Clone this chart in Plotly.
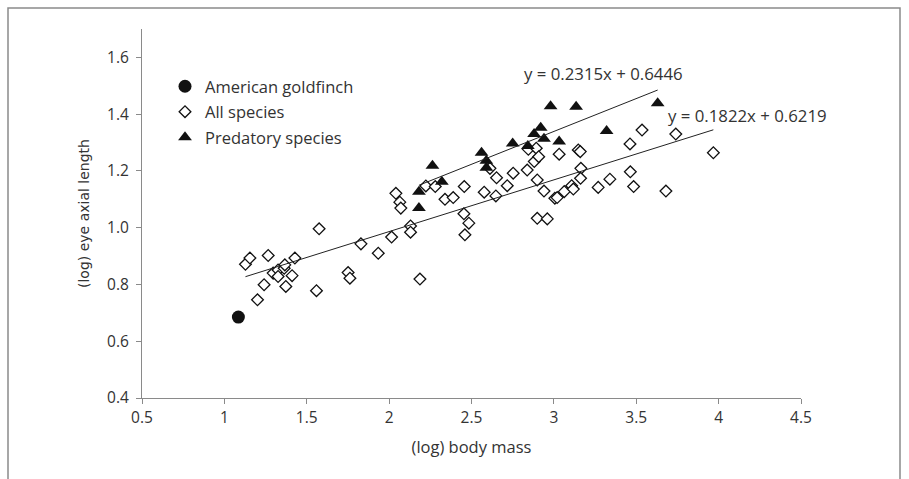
import plotly.graph_objects as go
import numpy as np

# American goldfinch
gold_x = [1.085]
gold_y = [0.685]

# All species (open diamonds)
all_x = [1.128, 1.155, 1.201, 1.241, 1.266, 1.296, 1.326, 1.326, 1.363, 1.367,
         1.373, 1.411, 1.428, 1.559, 1.575, 1.751, 1.762, 1.829, 1.934, 2.015,
         2.041, 2.065, 2.071, 2.130, 2.130, 2.187, 2.223, 2.280, 2.339, 2.389,
         2.456, 2.454, 2.484, 2.460, 2.577, 2.612, 2.648, 2.652, 2.717, 2.753,
         2.838, 2.845, 2.881, 2.893, 2.908, 2.899, 2.899, 2.960, 2.940, 3.006,
         3.020, 3.032, 3.063, 3.108, 3.118, 3.148, 3.160, 3.164, 3.162, 3.269,
         3.340, 3.462, 3.464, 3.484, 3.535, 3.680, 3.740, 3.968]
all_y = [0.871, 0.893, 0.746, 0.799, 0.902, 0.840, 0.851, 0.828, 0.857, 0.869,
         0.793, 0.831, 0.893, 0.778, 0.996, 0.842, 0.822, 0.943, 0.910, 0.967,
         1.121, 1.090, 1.069, 1.006, 0.984, 0.819, 1.147, 1.145, 1.100, 1.106,
         1.145, 1.049, 1.016, 0.975, 1.125, 1.209, 1.112, 1.176, 1.148, 1.192,
         1.203, 1.276, 1.233, 1.280, 1.250, 1.168, 1.033, 1.031, 1.129, 1.104,
         1.106, 1.259, 1.127, 1.148, 1.136, 1.274, 1.268, 1.209, 1.174, 1.142,
         1.171, 1.295, 1.197, 1.145, 1.344, 1.129, 1.330, 1.264]

# Predatory species (filled triangles)
pred_x = [2.181, 2.181, 2.263, 2.320, 2.561, 2.590, 2.590, 2.750, 2.842, 2.880,
          2.920, 2.940, 2.980, 3.032, 3.135, 3.320, 3.630]
pred_y = [1.127, 1.069, 1.218, 1.162, 1.264, 1.236, 1.211, 1.297, 1.288, 1.330,
          1.352, 1.313, 1.428, 1.304, 1.426, 1.341, 1.438]

# Trendline equations
all_slope, all_icpt = 0.1822, 0.6219
pred_slope, pred_icpt = 0.2315, 0.6446

x_ticks = [0.5, 1, 1.5, 2, 2.5, 3, 3.5, 4, 4.5]
x_tick_text = ["0.5", "1", "1.5", "2", "2.5", "3", "3.5", "4", "4.5"]
y_ticks = [0.4, 0.6, 0.8, 1.0, 1.2, 1.4, 1.6]
y_tick_text = ["0.4", "0.6", "0.8", "1.0", "1.2", "1.4", "1.6"]

FONT = "Open Sans, Noto Sans, sans-serif"
TXT = "#333333"

fig = go.Figure()

fig.add_trace(go.Scatter(
    x=all_x, y=all_y, mode="markers", name="All species",
    marker=dict(symbol="diamond", size=9, color="white",
                line=dict(color="#111111", width=1.3)),
    legendgroup="b", legendrank=2))

fig.add_trace(go.Scatter(
    x=pred_x, y=pred_y, mode="markers", name="Predatory species",
    marker=dict(symbol="triangle-up", size=12, color="#111111",
                line=dict(width=0)),
    legendgroup="c", legendrank=3))

fig.add_trace(go.Scatter(
    x=gold_x, y=gold_y, mode="markers", name="American goldfinch",
    marker=dict(symbol="circle", size=13, color="#111111", line=dict(width=0)),
    legendgroup="a", legendrank=1))

# trendlines
ax = np.array([min(all_x), max(all_x)])
fig.add_trace(go.Scatter(x=ax, y=all_slope * ax + all_icpt, mode="lines",
                         line=dict(color="#222222", width=1), showlegend=False,
                         hoverinfo="skip"))
px_ = np.array([min(pred_x), max(pred_x)])
fig.add_trace(go.Scatter(x=px_, y=pred_slope * px_ + pred_icpt, mode="lines",
                         line=dict(color="#222222", width=1), showlegend=False,
                         hoverinfo="skip"))

fig.add_annotation(x=3.300, y=1.545, xref="x", yref="y",
                   text=f"y = {pred_slope}x + {pred_icpt}", showarrow=False,
                   xanchor="center", yanchor="middle",
                   font=dict(family=FONT, size=16.8, color=TXT))
fig.add_annotation(x=4.175, y=1.395, xref="x", yref="y",
                   text=f"y = {all_slope}x + {all_icpt}", showarrow=False,
                   xanchor="center", yanchor="middle",
                   font=dict(family=FONT, size=16.8, color=TXT))

# outer frame
L, T, B = 142, 29, 81
W = 909 - L - 108
H = 479 - T - B
def px2x(p):
    return (p - L) / W
def py2y(p):
    return (479 - B - p) / H
fig.add_shape(type="rect", xref="paper", yref="paper",
              x0=px2x(8), x1=px2x(900), y0=py2y(490), y1=py2y(8),
              line=dict(color="#8a8a8a", width=1.5), fillcolor="rgba(0,0,0,0)")

fig.update_layout(
    width=909, height=479,
    margin=dict(l=L, r=108, t=T, b=B),
    paper_bgcolor="white", plot_bgcolor="white",
    font=dict(family=FONT, size=15, color=TXT),
    showlegend=True,
    legend=dict(x=px2x(165), y=py2y(69), xanchor="left", yanchor="top",
                bgcolor="rgba(0,0,0,0)", font=dict(family=FONT, size=16.5, color=TXT),
                traceorder="grouped", tracegroupgap=1, itemwidth=30),
    xaxis=dict(range=[0.5, 4.5], tickvals=x_ticks, ticktext=x_tick_text,
               showgrid=False, zeroline=False, showline=True,
               linecolor="#8a8a8a", linewidth=1, ticks="outside", ticklen=5,
               tickcolor="#8a8a8a", tickfont=dict(size=15.5, color=TXT),
               title=dict(text="(log) body mass", font=dict(size=16.5, color=TXT),
                          standoff=14)),
    yaxis=dict(range=[0.4, 1.7], tickvals=y_ticks, ticktext=y_tick_text,
               showgrid=False, zeroline=False, showline=True,
               linecolor="#8a8a8a", linewidth=1, ticks="outside", ticklen=5,
               tickcolor="#8a8a8a", tickfont=dict(size=15.5, color=TXT),
               ticklabelstandoff=4,
               title=dict(text="(log) eye axial length",
                          font=dict(family="DejaVu Sans, Verdana, sans-serif",
                                    size=14, color=TXT), standoff=14)),
)

fig.write_html("out.html")
